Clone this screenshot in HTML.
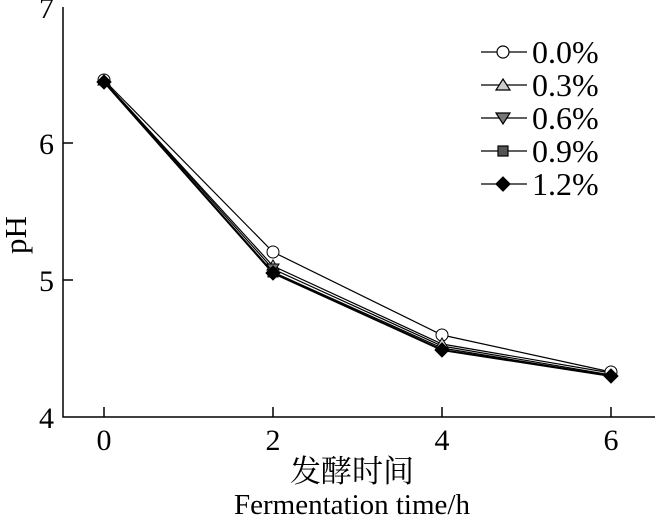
<!DOCTYPE html><html><head><meta charset="utf-8"><style>body{margin:0;background:#fff}svg{display:block}text{font-family:"Liberation Serif","Noto Serif CJK SC",serif;fill:#000}</style></head><body>
<svg width="655" height="518" viewBox="0 0 655 518" xmlns="http://www.w3.org/2000/svg">
<g stroke="#000" stroke-width="1.5" fill="none">
<path d="M63,7V417H655"/>
<path d="M63,143h10M63,280h10M104,417v-10M273,417v-10M442,417v-10M611,417v-10"/>
</g>
<g font-size="30" text-anchor="end"><text x="54" y="18">7</text><text x="54" y="154">6</text><text x="54" y="291">5</text><text x="54" y="428">4</text></g>
<g font-size="30" text-anchor="middle"><text x="104" y="450">0</text><text x="273" y="450">2</text><text x="442" y="450">4</text><text x="611" y="450">6</text>
<text x="352" y="482" font-size="31">发酵时间</text><text x="352" y="514" font-size="29">Fermentation time/h</text></g>
<text font-size="31" transform="translate(26,235) rotate(-90)" text-anchor="middle">pH</text>
<g fill="none" stroke="#000" stroke-width="1.2">
<polyline points="104,80 273,252 442,335 611,372"/>
<polyline points="104,81 273,266 442,344 611,373"/>
<polyline points="104,81 273,269 442,346 611,375"/>
<polyline points="104,82 273,272 442,348 611,376"/>
<polyline points="104,82 273,273 442,350 611,376" stroke-width="2"/>
</g>
<g stroke="#000" stroke-width="1">
<circle cx="273" cy="252" r="6" fill="#fff"/><circle cx="442" cy="335" r="6" fill="#fff"/><circle cx="611" cy="372" r="6" fill="#fff"/><circle cx="104" cy="80" r="6" fill="#fff"/>
<path d="M273,260l6,10h-12z M442,338l6,10h-12z M104,75l6,10h-12z" fill="#ccc"/>
<path d="M267,264h12l-6,10z" fill="#777"/>
<rect x="268" y="268" width="10" height="9" fill="#555"/>
<path d="M104,75l7,7-7,7-7-7z M273,266l7,7-7,7-7-7z M442,343l7,7-7,7-7-7z M611,369l7,7-7,7-7-7z" fill="#000"/>
</g>
<g stroke-width="1.2" stroke="#000">
<path d="M481,52h46M481,85h46M481,118h46M481,151h46M481,184h46"/>
<circle cx="503" cy="52" r="6" fill="#fff"/>
<path d="M503,79l7,11h-14z" fill="#ccc"/>
<path d="M496,113h14l-7,11z" fill="#777"/>
<rect x="498" y="146" width="10" height="10" fill="#555"/>
<path d="M503,177l7,7-7,7-7-7z" fill="#000"/>
</g>
<g font-size="32"><text x="532" y="63">0.0%</text><text x="532" y="96">0.3%</text><text x="532" y="129">0.6%</text><text x="532" y="162">0.9%</text><text x="532" y="195">1.2%</text></g>
</svg></body></html>
